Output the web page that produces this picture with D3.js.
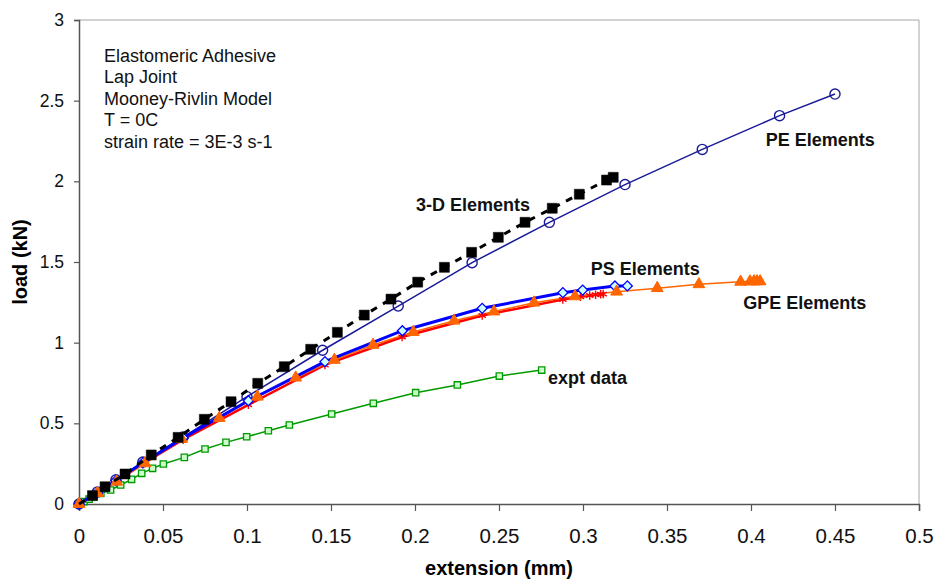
<!DOCTYPE html>
<html><head><meta charset="utf-8">
<script src="https://cdn.jsdelivr.net/npm/d3@7"></script>
<style>html,body{margin:0;padding:0;background:#fff;}svg{display:block;font-family:"Liberation Sans",Arial,sans-serif;}</style>
</head><body>
<svg id="c" width="936" height="579"></svg>
<script>
// ---- data ----
const xTicks = [0,0.05,0.1,0.15,0.2,0.25,0.3,0.35,0.4,0.45,0.5];
const yTicks = [0,0.5,1,1.5,2,2.5,3];
const xTickLabels = ["0","0.05","0.1","0.15","0.2","0.25","0.3","0.35","0.4","0.45","0.5"];
const yTickLabels = ["0","0.5","1","1.5","2","2.5","3"];

const peX = [0,0.011,0.022,0.038,0.062,0.1,0.145,0.19,0.234,0.28,0.325,0.371,0.417,0.45];
const peY = [0,0.075,0.15,0.26,0.415,0.665,0.953,1.227,1.496,1.746,1.98,2.198,2.407,2.541];

const d3X = [0.008,0.0155,0.0274,0.043,0.059,0.0746,0.0905,0.1064,0.1222,0.1379,0.1538,0.1698,0.1857,0.2016,0.2175,0.2337,0.2496,0.2655,0.2817,0.2978,0.314,0.318];
const d3Y = [0.052,0.107,0.186,0.304,0.413,0.525,0.634,0.748,0.851,0.959,1.064,1.171,1.27,1.375,1.467,1.56,1.653,1.746,1.833,1.92,2.008,2.025];

const psX = [0,0.011,0.022,0.038,0.062,0.1008,0.1464,0.1925,0.24,0.288,0.2998,0.319,0.3264];
const psY = [0,0.072,0.145,0.255,0.41,0.64,0.882,1.074,1.213,1.31,1.326,1.351,1.352];

const redX = [0,0.011,0.022,0.038,0.062,0.1008,0.1464,0.1923,0.24,0.288,0.2985,0.304,0.3075,0.3105,0.312];
const redY = [0,0.07,0.14,0.248,0.4,0.615,0.862,1.035,1.168,1.268,1.285,1.292,1.297,1.3,1.301];

const gpeX = [0,0.011,0.0224,0.0393,0.0611,0.0835,0.1062,0.129,0.152,0.175,0.199,0.2232,0.247,0.2708,0.2952,0.32,0.3442,0.369,0.3938,0.3994,0.4018,0.4036,0.4054];
const gpeY = [0,0.068,0.138,0.252,0.402,0.533,0.665,0.783,0.893,0.986,1.066,1.136,1.193,1.248,1.287,1.316,1.338,1.362,1.377,1.379,1.38,1.38,1.38];

const exX = [0,0.003,0.006,0.009,0.013,0.0188,0.0248,0.0313,0.0373,0.0438,0.0502,0.0627,0.075,0.0875,0.0998,0.1127,0.1252,0.1504,0.1752,0.2004,0.2252,0.2502,0.2754];
const exY = [0,0.015,0.03,0.045,0.065,0.087,0.118,0.153,0.19,0.221,0.248,0.289,0.341,0.382,0.417,0.454,0.49,0.558,0.624,0.69,0.738,0.793,0.83];

const notes = ["Elastomeric Adhesive","Lap Joint","Mooney-Rivlin Model","T = 0C","strain rate = 3E-3 s-1"];
const seriesLabels = [
  {text:"PE Elements", x:0.4088, y:2.221},
  {text:"3-D Elements", x:0.2006, y:1.816},
  {text:"PS Elements", x:0.3046, y:1.419},
  {text:"GPE Elements", x:0.3954, y:1.207},
  {text:"expt data", x:0.2792, y:0.741}
];

// ---- chart ----
const svg = d3.select("#c");
const x = d3.scaleLinear().domain([0,0.5]).range([79,919]);
const y = d3.scaleLinear().domain([0,3]).range([504,20]);
const zip = (a,b) => a.map((v,i)=>[v,b[i]]);
const line = d3.line().x(d=>x(d[0])).y(d=>y(d[1]));

// frame (top/right light)
svg.append("path").attr("d",`M${x(0)},${y(3)}H${x(0.5)}V${y(0)}`).attr("fill","none").attr("stroke","#a6a6a6").attr("stroke-width",1);

// axes
const xAxis = d3.axisBottom(x).tickValues(xTicks).tickFormat((d,i)=>xTickLabels[i]).tickSize(7).tickPadding(17);
const yAxis = d3.axisLeft(y).tickValues(yTicks).tickFormat((d,i)=>yTickLabels[i]).tickSize(5).tickPadding(10);
const gx = svg.append("g").attr("transform",`translate(0,${y(0)})`).call(xAxis);
const gy = svg.append("g").attr("transform",`translate(${x(0)},0)`).call(yAxis);
[gx,gy].forEach(g=>{
  g.select(".domain").attr("stroke","#555").attr("stroke-width",1.5);
  g.selectAll(".tick line").attr("stroke","#555").attr("stroke-width",1.2);
  g.selectAll(".tick text").attr("fill","#111").attr("font-family","Liberation Sans, Arial, sans-serif");
});
gx.selectAll(".tick text").attr("font-size",20.5);
gy.selectAll(".tick text").attr("font-size",17.5);

// axis titles
svg.append("text").attr("x",499).attr("y",575).attr("text-anchor","middle").attr("font-size",20).attr("font-weight","bold").text("extension (mm)");
svg.append("text").attr("transform","translate(27,262) rotate(-90)").attr("text-anchor","middle").attr("font-size",20).attr("font-weight","bold").text("load (kN)");

// series
function drawLine(data, color, width, dash){
  svg.append("path").datum(data).attr("d",line).attr("fill","none").attr("stroke",color).attr("stroke-width",width).attr("stroke-dasharray",dash||null);
}
function drawMarkers(data, type, size, fill, stroke, sw, rot){
  const sym = d3.symbol().type(type).size(size);
  svg.append("g").selectAll("path").data(data).join("path")
    .attr("d",sym)
    .attr("transform",d=>`translate(${x(d[0])},${y(d[1])})${rot?` rotate(${rot})`:""}`)
    .attr("fill",fill).attr("stroke",stroke).attr("stroke-width",sw);
}

const ex = zip(exX,exY), pe = zip(peX,peY), ps = zip(psX,psY), red = zip(redX,redY), gpe = zip(gpeX,gpeY), dd = zip(d3X,d3Y);

drawLine(ex,"#009900",1.5);
drawMarkers(ex,d3.symbolSquare,40,"#ccffcc","#009900",1.3);

drawLine(pe,"#1a1a99",1.5);
drawMarkers(pe,d3.symbolCircle,80,"none","#1a1a99",1.4);

drawLine(red,"#ff0000",2.5);
drawLine(gpe,"#ff6600",1.5);
drawLine(ps,"#0000ff",3);
drawMarkers(red,d3.symbolAsterisk,50,"none","#ff0000",1.4);
drawMarkers(ps,d3.symbolSquare,50,"#ccffff","#0000ff",1.3,45);
drawMarkers(gpe,d3.symbolTriangle,60,"#ff6600","#ff6600",1);

drawLine([[0,0]].concat(dd),"#000",3,"7,7");
drawMarkers(dd,d3.symbolSquare,100,"#000","#000",0.5);

// series labels
svg.append("g").selectAll("text").data(seriesLabels).join("text")
  .attr("x",d=>x(d.x)).attr("y",d=>y(d.y)).attr("font-size",18).attr("font-weight","bold").attr("fill","#111").text(d=>d.text);

// notes
svg.append("g").selectAll("text").data(notes).join("text")
  .attr("x",104).attr("y",(d,i)=>61.5+i*21.6).attr("font-size",18).attr("fill","#111").text(d=>d);
</script>
</body></html>
